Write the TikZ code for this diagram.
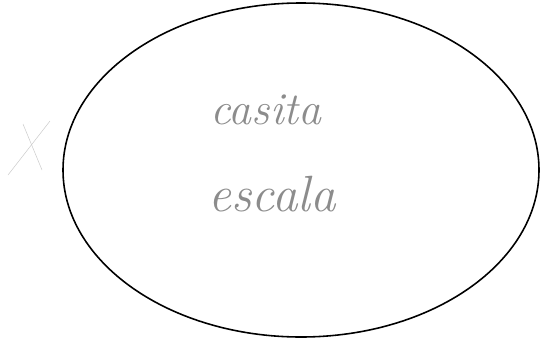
\documentclass[tikz,border=0pt]{standalone}
\usepackage{tikz}
\usetikzlibrary{positioning}

\tikzset{
    handtext/.style={text=black!45, font=\itshape\fontsize{26}{30}\selectfont},
    pencil/.style={draw=black!20, line width=0.3pt}
}

\begin{document}
\begin{tikzpicture}
                    \useasboundingbox (0,0) rectangle (10.82,6.8);
                    % Big ellipse
                    \draw[line width=0.9pt] (6.02,3.40) ellipse (4.76 and 3.34);

                    % Words inside
                    \node[handtext] (casita) at (5.32,4.60) {casita};
                    \node[handtext, font=\itshape\fontsize{29}{33}\selectfont] (escala) at (5.44,2.92) {escala};

                    % Crossed mark on the left
                    \draw[pencil] (1.00,4.38) -- (0.16,3.30);
                    \draw[pencil] (0.46,4.32) -- (0.84,3.40);
                \end{tikzpicture}
\end{document}
